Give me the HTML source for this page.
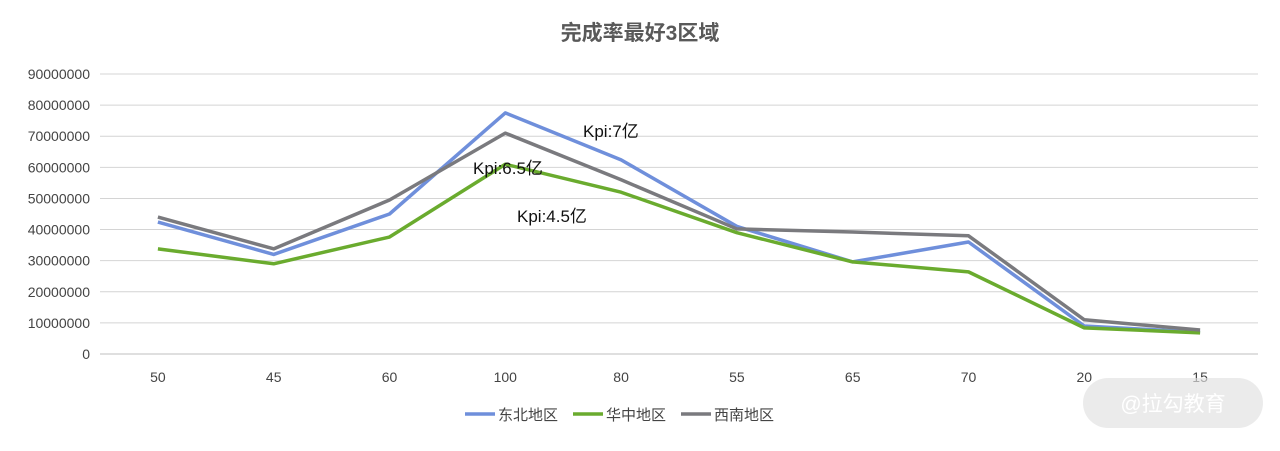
<!DOCTYPE html>
<html><head><meta charset="utf-8"><style>
body{margin:0;background:#fff;width:1280px;height:446px;overflow:hidden;font-family:"Liberation Sans","Noto Sans CJK SC",sans-serif}
</style></head><body>
<svg id="c" width="1280" height="446">
<text x="640" y="40" text-anchor="middle" font-size="21" font-weight="bold" fill="#595959" font-family="Liberation Sans,Noto Sans CJK SC,sans-serif">完成率最好3区域</text>
<g id="grid"></g><g id="lines"></g><g id="labels"></g>
<text x="583" y="137" font-size="17" fill="#111" font-family="Liberation Sans,Noto Sans CJK SC,sans-serif">Kpi:7亿</text>
<text x="473" y="174" font-size="17" fill="#111" font-family="Liberation Sans,Noto Sans CJK SC,sans-serif">Kpi:6.5亿</text>
<text x="517" y="222" font-size="17" fill="#111" font-family="Liberation Sans,Noto Sans CJK SC,sans-serif">Kpi:4.5亿</text>
<g id="legend"></g>
<rect x="1083" y="378" width="180" height="50" rx="25" fill="#e0e0e0" opacity="0.65"/>
<text x="1173" y="411" text-anchor="middle" font-size="21" fill="#fff" font-family="Liberation Sans,Noto Sans CJK SC,sans-serif">@拉勾教育</text>
</svg>
<script>
const categories=["50","45","60","100","80","55","65","70","20","15"];
const seriesNames=["东北地区","华中地区","西南地区"];
const northeast=[42.4,32,45,77.5,62.4,41,29.6,36,9,7];
const central=[33.8,29,37.6,61,52,39,29.6,26.4,8.4,6.8];
const southwest=[44,33.8,49.5,71,56,40.2,39.2,38,11,7.7];
const yTicks=[0,10,20,30,40,50,60,70,80,90];
const colors=["#6f8fdb","#6aab2e","#7a7a7e"];
const NS="http://www.w3.org/2000/svg";
const x0=100,x1=1258,yb=354,yt=74;
const xs=i=>x0+(x1-x0)/categories.length*(i+0.5);
const ys=v=>yb-(yb-yt)*v/90;
function mk(t,a,p){const e=document.createElementNS(NS,t);for(const k in a)e.setAttribute(k,a[k]);p.appendChild(e);return e;}
const g=document.getElementById('grid'),lb=document.getElementById('labels');
yTicks.forEach(v=>{
 const l=mk('line',{x1:x0,x2:x1,y1:ys(v),y2:ys(v),stroke:v===0?'#bfbfbf':'#d4d4d4','stroke-width':1},g);
 
 
 const t=mk('text',{x:90,y:ys(v)+5,'text-anchor':'end','font-size':14,fill:'#444'},lb);
 t.textContent=v===0?'0':String(v*1000000);
 
 
});
categories.forEach((c,i)=>{
 const t=mk('text',{x:xs(i),y:382,'text-anchor':'middle','font-size':14,fill:'#444'},lb);
 t.textContent=c;
 
 
});
const ln=document.getElementById('lines');
[northeast,central,southwest].forEach((s,k)=>{
 const p=mk('polyline',{points:s.map((v,i)=>xs(i)+','+ys(v)).join(' '),fill:'none',stroke:colors[k],'stroke-width':3.5,'stroke-linejoin':'round'},ln);
 
 
});
const lg=document.getElementById('legend');
const lx=[465,573,681];
seriesNames.forEach((n,k)=>{
 const l=mk('line',{x1:lx[k],x2:lx[k]+30,y1:414,y2:414,stroke:colors[k],'stroke-width':3.5},lg);
 
 
 const t=mk('text',{x:lx[k]+33,y:420,'font-size':15,fill:'#444'},lg);
 t.textContent=n;
 
 
});
</script>
</body></html>
